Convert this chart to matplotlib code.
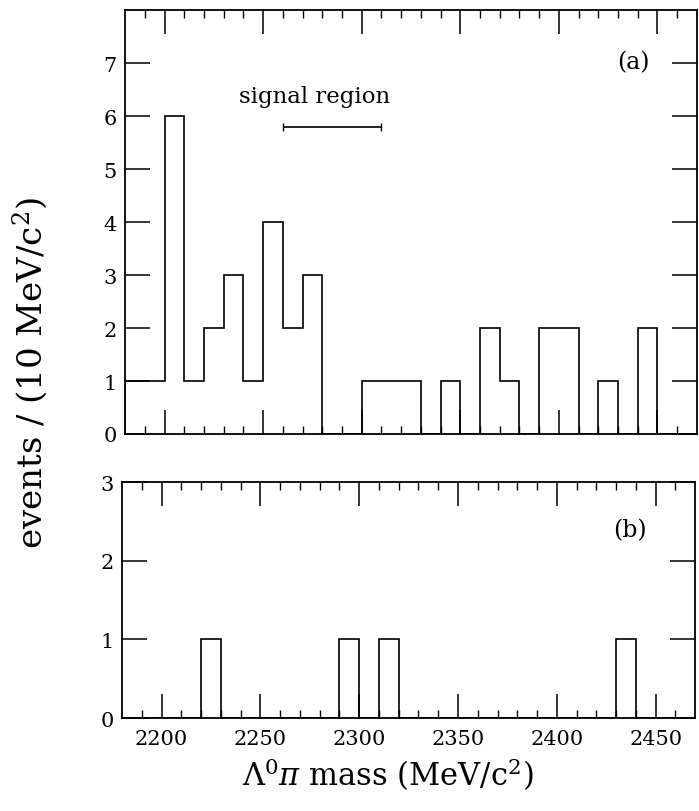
import matplotlib
matplotlib.use('Agg')
import matplotlib.pyplot as plt
import numpy as np

plt.rcParams['font.family'] = ['DejaVu Serif']
plt.rcParams['mathtext.fontset'] = 'dejavuserif'

# 10 MeV bins from 2180 to 2470
edges = np.arange(2180, 2471, 10)
counts_a = [1, 1, 6, 1, 2, 3, 1, 4, 2, 3, 0, 0, 1, 1, 1, 0, 1, 0, 2, 1,
            0, 2, 2, 0, 1, 0, 2, 0, 0]
counts_b = [0, 0, 0, 0, 1, 0, 0, 0, 0, 0, 0, 1, 0, 1, 0, 0, 0, 0, 0, 0,
            0, 0, 0, 0, 0, 1, 0, 0, 0]
signal_lo, signal_hi = 2260, 2310
xticks = [2200, 2250, 2300, 2350, 2400, 2450]

fig = plt.figure(figsize=(6.99, 8.12), dpi=100)
ax1 = fig.add_axes([0.179, 0.4643, 0.818, 0.522])
ax2 = fig.add_axes([0.1745, 0.1145, 0.82, 0.2906])

for ax in (ax1, ax2):
    ax.set_xlim(2180, 2470)
    ax.set_xticks(xticks)
    ax.set_xticks(np.arange(2190, 2470, 10), minor=True)
    ax.tick_params(axis='x', which='major', direction='in', top=True, bottom=True,
                   length=17, width=1.1, labelsize=15, pad=8)
    ax.tick_params(axis='x', which='minor', direction='in', top=True, bottom=True,
                   length=6, width=1.0)
    ax.tick_params(axis='y', which='major', direction='in', left=True, right=True,
                   length=18, width=1.1, labelsize=15, pad=6)
    for s in ax.spines.values():
        s.set_linewidth(1.3)

ax1.stairs(counts_a, edges, color='black', lw=1.2, baseline=0)
ax1.set_ylim(0, 8)
ax1.set_yticks(range(8))
ax1.tick_params(axis='x', labelbottom=False)
ax1.errorbar([(signal_lo + signal_hi) / 2], [5.8], xerr=[(signal_hi - signal_lo) / 2],
             fmt='none', ecolor='black', elinewidth=1.2, capsize=3, capthick=1.0)
ax1.text(2276, 6.37, 'signal region', fontsize=16.5, ha='center', va='center')
ax1.text(2438, 7.02, '(a)', fontsize=17, ha='center', va='center')

ax2.stairs(counts_b, edges, color='black', lw=1.2, baseline=0)
ax2.set_ylim(0, 3)
ax2.set_yticks(range(4))
ax2.text(2437, 2.39, '(b)', fontsize=17, ha='center', va='center')

fig.text(0.555, 0.046, r'$\Lambda^0\pi$ mass (MeV/c$^2$)', fontsize=22,
         ha='center', va='center')
fig.text(0.043, 0.541, r'events / (10 MeV/c$^2$)', fontsize=24.5, rotation=90,
         ha='center', va='center')

fig.savefig('out.png', dpi=100)
